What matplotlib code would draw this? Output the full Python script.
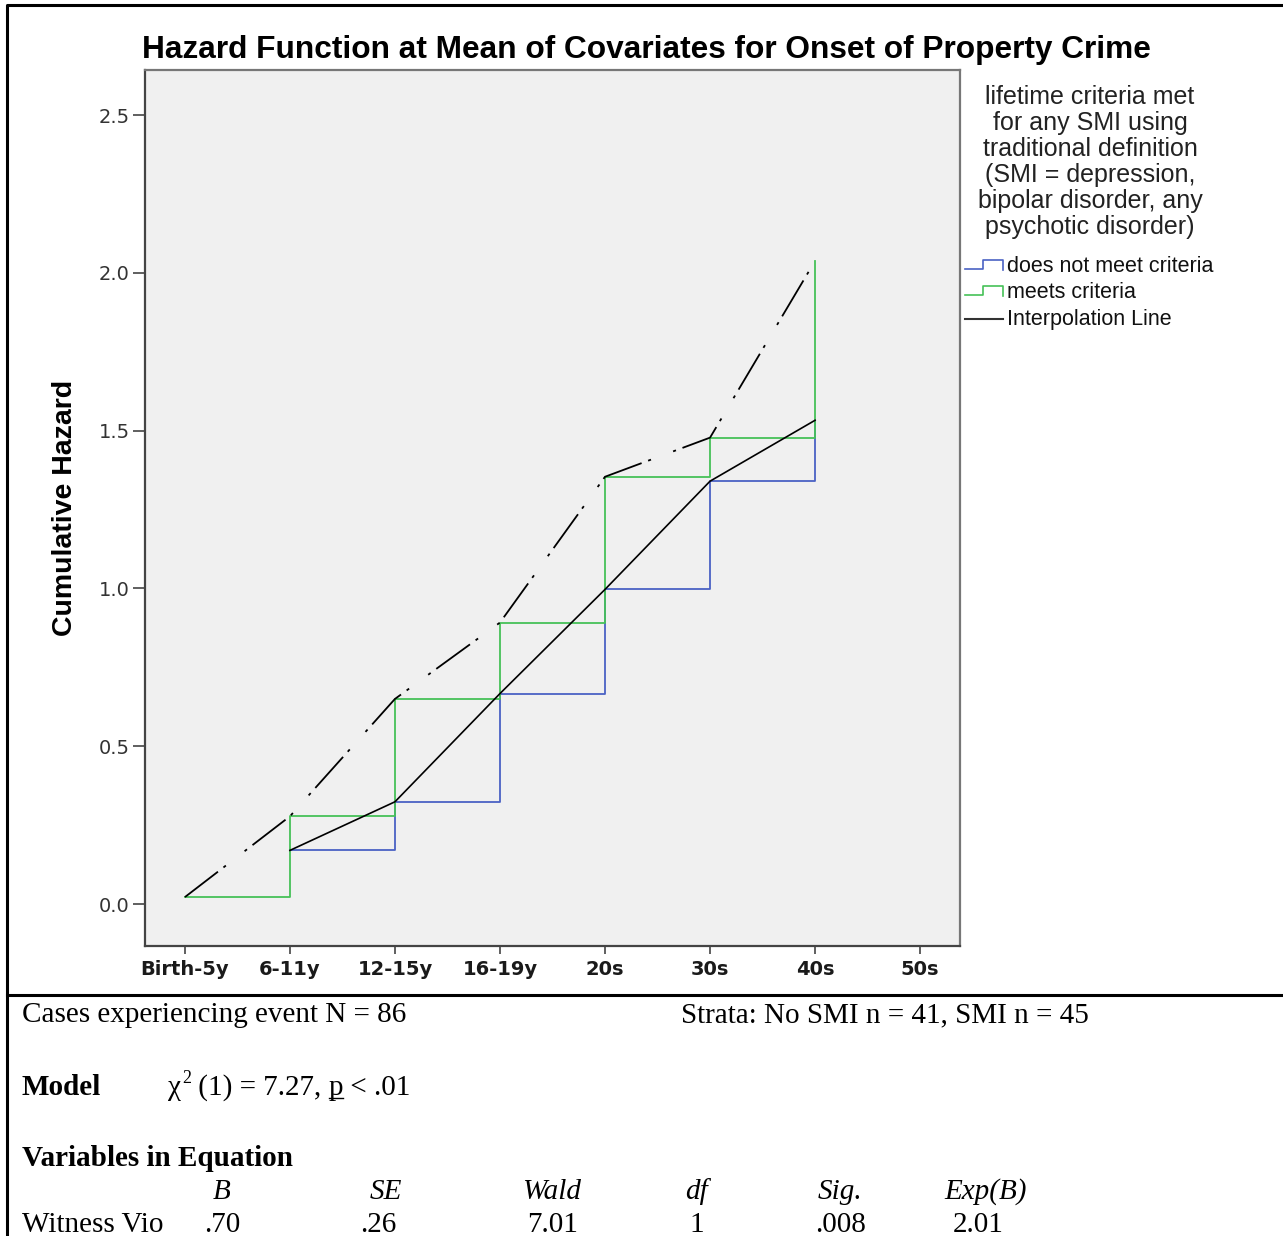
import numpy as np
import matplotlib.pyplot as plt
from matplotlib.lines import Line2D

plt.rcParams['lines.scale_dashes'] = False

# age bands on the x axis
age_groups = ['Birth-5y', '6-11y', '12-15y', '16-19y', '20s', '30s', '40s', '50s']

# cumulative hazard, meets SMI criteria (Birth-5y .. 40s)
smi_hazard = [0.022, 0.278, 0.650, 0.892, 1.354, 1.478, 2.038]
# cumulative hazard, does not meet criteria (6-11y .. 40s)
no_smi_hazard = [0.170, 0.324, 0.667, 0.997, 1.340, 1.533]

y_ticks = [0.0, 0.5, 1.0, 1.5, 2.0, 2.5]

W, H = 1283, 1236
BLUE = '#4a62c4'
GREEN = '#46c158'


def px(x, y):
    # pixel position (from top-left) -> figure fraction
    return x / W, 1 - y / H


fig = plt.figure(figsize=(W / 100, H / 100), dpi=100)
ax = fig.add_axes([145 / W, 1 - 946 / H, (960 - 145) / W, (946 - 70) / H])
ax.set_facecolor('#f0f0f0')

x_all = np.arange(1, len(age_groups) + 1)
x_smi = x_all[:len(smi_hazard)]
x_no = x_all[1:1 + len(no_smi_hazard)]

ax.plot(x_no, no_smi_hazard, drawstyle='steps-post', color=BLUE, lw=1.3, zorder=2)
ax.plot(x_smi, smi_hazard, drawstyle='steps-post', color=GREEN, lw=1.3, zorder=3)
# interpolation lines
ax.plot(x_no, no_smi_hazard, color='black', lw=1.2, zorder=4)
ax.plot(x_smi, smi_hazard, color='black', lw=1.3, zorder=4,
        dashes=[30, 5, 2.2, 17, 2.2, 5])

ax.set_xlim(0.62, 8.38)
ax.set_ylim(-0.133, 2.643)
ax.set_xticks(x_all)
ax.set_xticklabels(age_groups, fontsize=14, fontweight='bold', color='#1a1a1a')
ax.set_yticks(y_ticks)
ax.set_yticklabels(['%.1f' % v for v in y_ticks], fontsize=14, color='#333333')
ax.tick_params(axis='y', length=9, width=1.2, color='#444444', pad=2)
ax.tick_params(axis='x', length=6, width=1.2, color='#444444', pad=4)
for side in ['left', 'bottom']:
    ax.spines[side].set_color('#444444')
    ax.spines[side].set_linewidth(1.6)
for side in ['top', 'right']:
    ax.spines[side].set_color('#777777')
    ax.spines[side].set_linewidth(1.6)

fig.text(*px(646, 50), 'Hazard Function at Mean of Covariates for Onset of Property Crime',
         ha='center', va='center', fontsize=22.8, fontweight='bold',
         family='Liberation Sans')
fig.text(*px(65, 508), 'Cumulative Hazard', rotation=90, ha='center', va='center',
         fontsize=20.5, fontweight='bold', family='Liberation Sans')

# legend
legend_title = ['lifetime criteria met', 'for any SMI using', 'traditional definition',
                '(SMI = depression,', 'bipolar disorder, any', 'psychotic disorder)']
for i, line in enumerate(legend_title):
    fig.text(*px(1090, 97 + 26 * i), line, ha='center', va='center', fontsize=18,
             color='#222222', family='Liberation Sans')
for dy, col in [(0, BLUE), (26, GREEN)]:
    xs = [965, 983, 983, 1003, 1003]
    ys = [269 + dy, 269 + dy, 260 + dy, 260 + dy, 270 + dy]
    fx, fy = zip(*[px(a, b) for a, b in zip(xs, ys)])
    fig.add_artist(Line2D(fx, fy, color=col, lw=1.2))
fx, fy = zip(px(965, 319), px(1003, 319))
fig.add_artist(Line2D(fx, fy, color='#333333', lw=1.5))
for y, label in [(267, 'does not meet criteria'), (293, 'meets criteria'),
                 (320, 'Interpolation Line')]:
    fig.text(*px(1007, y), label, ha='left', va='center', fontsize=15.5,
             color='#111111', family='Liberation Sans')

# frame
for pts in [[(7, 1236), (7, 5), (1283, 5)], [(7, 995), (1283, 995)]]:
    fx, fy = zip(*[px(a, b) for a, b in pts])
    fig.add_artist(Line2D(fx, fy, color='black', lw=2.2))

# model summary
serif = 'Liberation Serif'
fs = 21


def put(x, y, s, **kw):
    kw.setdefault('fontsize', fs)
    return fig.text(*px(x, y), s, ha='left', va='baseline', family=serif, **kw)


put(22, 1022, 'Cases experiencing event N = 86')
put(681, 1022, 'Strata: No SMI n = 41, SMI n = 45')
put(22, 1095, 'Model', fontweight='bold')

fig.canvas.draw()
r = fig.canvas.get_renderer()
t = put(168, 1095, 'χ')
x = t.get_window_extent(r).x1 + 1
t = fig.text(x / W, 1 - 1083 / H, '2', ha='left', va='baseline', family=serif, fontsize=13)
x = t.get_window_extent(r).x1
t = fig.text(x / W, 1 - 1095 / H, ' (1) = 7.27, ', ha='left', va='baseline', family=serif, fontsize=fs)
x = t.get_window_extent(r).x1
t = fig.text(x / W, 1 - 1095 / H, 'p', ha='left', va='baseline', family=serif, fontsize=fs)
bb = t.get_window_extent(r)
fig.add_artist(Line2D([bb.x0 / W, bb.x1 / W], [1 - 1098 / H] * 2, color='black', lw=1))
fig.text(bb.x1 / W, 1 - 1095 / H, ' < .01', ha='left', va='baseline', family=serif, fontsize=fs)

put(22, 1166, 'Variables in Equation', fontweight='bold')

col_heads = ['B', 'SE', 'Wald', 'df', 'Sig.', 'Exp(B)']
head_x = [213, 370, 522, 685, 818, 944]
row_name = 'Witness Vio'
row_vals = ['.70', '.26', '7.01', '1', '.008', '2.01']
val_x = [204, 360, 527, 689, 815, 953]
for hx, h in zip(head_x, col_heads):
    put(hx, 1199, h, style='italic')
put(22, 1232, row_name)
for vx, v in zip(val_x, row_vals):
    put(vx, 1232, v)

fig.savefig('out.png', dpi=100, facecolor='white')
